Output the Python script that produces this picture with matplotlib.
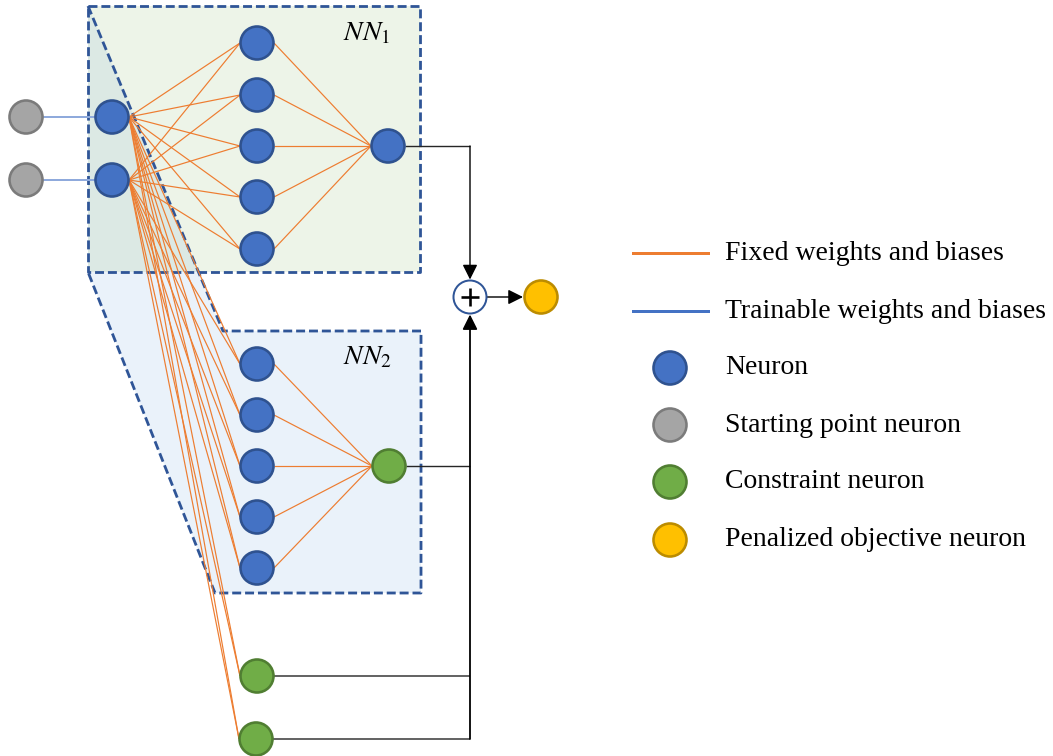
import numpy as np
import matplotlib.pyplot as plt
from matplotlib.patches import Circle, Polygon

plt.rcParams['mathtext.fontset'] = 'stix'

# node layout (pixel coordinates of the original drawing)
gray_x = 26
input_x = 112
input_y = [117, 180]
hidden_x = 257
nn1_hidden_y = [43, 95, 146, 197, 249]
nn1_out = (388, 146)
nn2_hidden_y = [364, 415, 466, 517, 568]
nn2_out = (389, 466)
constraint_x = [257, 256]
constraint_y = [676, 739]
plus_xy = (470, 297)
final_xy = (541, 297)

# boxes
nn1_box = [(88, 6), (420, 6), (420, 272), (88, 272)]
nn2_box = [(88, 6), (223, 331), (421, 331), (421, 593), (215, 593), (88, 272)]

legend_labels = ['Fixed weights and biases', 'Trainable weights and biases',
                 'Neuron', 'Starting point neuron', 'Constraint neuron',
                 'Penalized objective neuron']
legend_y = [253, 311, 368, 425, 482, 540]

# colours
blue = ('#4472C4', '#2F528F')
gray = ('#A5A5A5', '#7B7B7B')
green = ('#70AD47', '#507E32')
yellow = ('#FFC000', '#BC8C00')
orange = '#ED7D31'
dash_col = '#2F5597'

R = 17
px = 0.72  # one pixel in points

fig = plt.figure(figsize=(10.53, 7.56), dpi=100)
ax = fig.add_axes([0, 0, 1, 1])
ax.set_xlim(0, 1053)
ax.set_ylim(756, 0)
ax.axis('off')

# shaded regions
ax.add_patch(Polygon(nn2_box, closed=True, fc='#EAF2FA', ec='none', zorder=1))
ax.add_patch(Polygon(nn1_box, closed=True, fc='#EDF4E8', ec='none', zorder=1))
# overlap of the two regions
(x0, y0), (x1, y1) = nn2_box[0], nn2_box[1]
yb = nn1_box[2][1]
xo = x0 + (x1 - x0) * (yb - y0) / (y1 - y0)
ax.add_patch(Polygon([(x0, y0), (xo, yb), (x0, yb)], closed=True,
                     fc='#DCE9E4', ec='none', zorder=1))

dash = (0, (3.2, 1.4))
xs, ys = zip(*(nn1_box + [nn1_box[0]]))
ax.plot(xs, ys, color=dash_col, lw=2.8 * px, ls=dash, zorder=2)
xs, ys = zip(*nn2_box)
ax.plot(xs, ys, color=dash_col, lw=2.8 * px, ls=dash, zorder=2)


def node(x, y, col, r=R):
    ax.add_patch(Circle((x, y), r - 0.5, fc=col[0], ec=col[1], lw=2.6 * px, zorder=5))


def seg(a, b, color=orange, lw=1.2, z=3):
    ax.plot([a[0], b[0]], [a[1], b[1]], color=color, lw=lw * px, zorder=z,
            solid_capstyle='butt')


# orange connections from inputs
targets = [(hidden_x, y) for y in nn1_hidden_y] + [(hidden_x, y) for y in nn2_hidden_y] \
          + list(zip(constraint_x, constraint_y))
for iy in input_y:
    for tx, ty in targets:
        seg((input_x + R, iy), (tx - R, ty))

for y in nn1_hidden_y:
    seg((hidden_x + R, y), (nn1_out[0] - R, nn1_out[1]))
for y in nn2_hidden_y:
    seg((hidden_x + R, y), (nn2_out[0] - R, nn2_out[1]))

# trainable connections
for iy in input_y:
    seg((gray_x + R, iy), (input_x - R, iy), color='#8FAADC', lw=2)

# black connections
k = '#262626'
seg((nn1_out[0] + R, nn1_out[1]), (plus_xy[0], nn1_out[1]), color=k, lw=1.4)
seg((nn2_out[0] + R, nn2_out[1]), (plus_xy[0], nn2_out[1]), color=k, lw=1.4)
for cx, cy in zip(constraint_x, constraint_y):
    seg((cx + R, cy), (plus_xy[0], cy), color='#404040', lw=1.6)

arrow = dict(arrowstyle='-|>,head_length=0.6,head_width=0.3', color='black',
             lw=1.4 * px, shrinkA=0, shrinkB=0, mutation_scale=15)
ax.annotate('', xy=(plus_xy[0], plus_xy[1] - R - 0.5), xytext=(plus_xy[0], nn1_out[1]),
            arrowprops=arrow, zorder=4)
ax.annotate('', xy=(plus_xy[0], plus_xy[1] + R + 0.5), xytext=(plus_xy[0], constraint_y[-1]),
            arrowprops=dict(arrow, lw=1.8 * px), zorder=4)
ax.annotate('', xy=(final_xy[0] - R - 1, final_xy[1]), xytext=(plus_xy[0] + R, plus_xy[1]),
            arrowprops=arrow, zorder=4)

# nodes
for y in input_y:
    node(gray_x, y, gray)
    node(input_x, y, blue)
for y in nn1_hidden_y + nn2_hidden_y:
    node(hidden_x, y, blue)
node(*nn1_out, blue)
node(*nn2_out, green)
for cx, cy in zip(constraint_x, constraint_y):
    node(cx, cy, green)
node(*final_xy, yellow)

# plus node
ax.add_patch(Circle(plus_xy, R - 0.5, fc='white', ec=dash_col, lw=2 * px, zorder=5))
seg((plus_xy[0] - 9, plus_xy[1]), (plus_xy[0] + 9, plus_xy[1]), color='black', lw=2.6, z=6)
seg((plus_xy[0], plus_xy[1] - 9), (plus_xy[0], plus_xy[1] + 9), color='black', lw=2.6, z=6)

# box labels
ax.text(343, 40, r'$NN_1$', fontsize=20, ha='left', va='baseline', zorder=6)
ax.text(343, 364, r'$NN_2$', fontsize=20, ha='left', va='baseline', zorder=6)

# legend
tf = dict(fontsize=20, family='Liberation Serif', va='center', ha='left')
ax.plot([633, 708], [legend_y[0]] * 2, color=orange, lw=3 * px)
ax.plot([633, 708], [legend_y[1]] * 2, color='#4472C4', lw=3 * px)
for y, col in zip(legend_y[2:], [blue, gray, green, yellow]):
    node(670, y, col)
for y, lab in zip(legend_y, legend_labels):
    ax.text(725, y, lab, **tf)

fig.savefig('out.png', dpi=100)
